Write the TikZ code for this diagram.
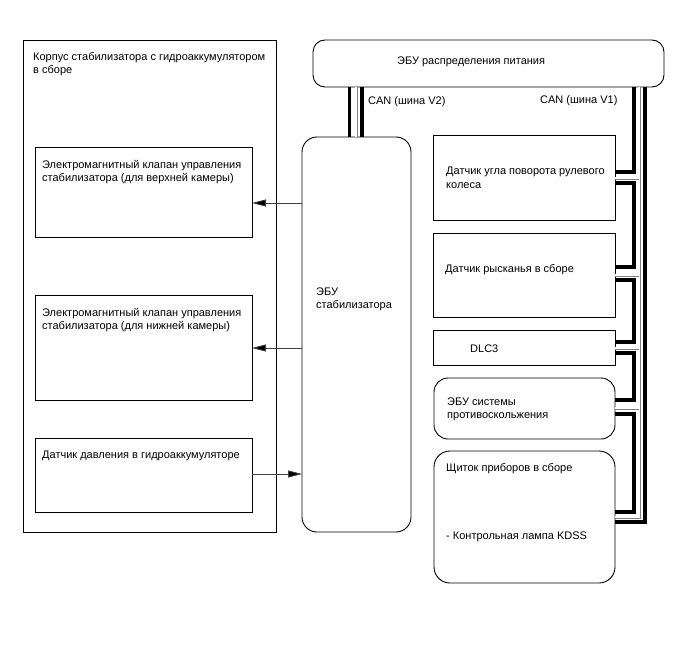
\documentclass[tikz,border=0pt]{standalone}
\usepackage{fontspec}
\setmainfont{Liberation Sans}
\usetikzlibrary{arrows.meta}
\begin{document}
\begin{tikzpicture}[x=1pt,y=-1pt,
  box/.style={draw, line width=0.9pt, anchor=north west, inner sep=0pt, outer sep=0pt},
  lbl/.style={anchor=base west, inner sep=0pt, font=\fontsize{11}{13}\selectfont},
  arr/.style={line width=0.8pt, draw=black!75, -{Triangle[length=14pt,width=7pt,fill=black]}},
  canb/.style={line width=3.5pt, draw=black, line join=miter},
  cang/.style={draw=gray, line width=0.7pt, double=white, double distance=1.6pt}]
\useasboundingbox (0,0) rectangle (688,658);

% left assembly
\node[box, minimum width=253pt, minimum height=492pt] (asm) at (23,40) {};
\node[lbl] (tasm1) at (33,61) {Корпус стабилизатора с гидроаккумулятором};
\node[lbl] (tasm2) at (33,74) {в сборе};

\node[box, minimum width=217pt, minimum height=90pt] (l1) at (35,147) {};
\node[lbl] (tl1a) at (42,168) {Электромагнитный клапан управления};
\node[lbl] (tl1b) at (42,181) {стабилизатора (для верхней камеры)};

\node[box, minimum width=217pt, minimum height=105pt] (l2) at (35,295) {};
\node[lbl] (tl2a) at (42,316) {Электромагнитный клапан управления};
\node[lbl] (tl2b) at (42,329) {стабилизатора (для нижней камеры)};

\node[box, minimum width=217pt, minimum height=74pt] (l3) at (35,438) {};
\node[lbl] (tl3) at (42,458) {Датчик давления в гидроаккумуляторе};

% stabilizer ECU
\node[box, rounded corners=15pt, minimum width=109pt, minimum height=395pt] (stab) at (302,137) {};
\node[lbl] (ts1) at (316,295) {ЭБУ};
\node[lbl] (ts2) at (316,308) {стабилизатора};

% power distribution ECU
\node[box, rounded corners=12pt, minimum width=351pt, minimum height=47pt] (pecu) at (313,40) {};
\node[lbl] (tp) at (397,65) {ЭБУ распределения питания};

\node[lbl] (tv2) at (368,105) {CAN (шина V2)};
\node[lbl] (tv1) at (540,104) {CAN (шина V1)};

% right column
\node[box, minimum width=182pt, minimum height=85pt] (r1) at (433,135) {};
\node[lbl] (tr1a) at (446,175) {Датчик угла поворота рулевого};
\node[lbl] (tr1b) at (446,188) {колеса};

\node[box, minimum width=182pt, minimum height=84pt] (r2) at (433,233) {};
\node[lbl] (tr2) at (445,272) {Датчик рысканья в сборе};

\node[box, minimum width=182pt, minimum height=35pt] (r3) at (433,330) {};
\node[lbl] (tr3) at (470,352) {DLC3};

\node[box, rounded corners=14pt, minimum width=181pt, minimum height=61pt] (r4) at (434,378) {};
\node[lbl] (tr4a) at (447,405) {ЭБУ системы};
\node[lbl] (tr4b) at (447,418) {противоскольжения};

\node[box, rounded corners=16pt, minimum width=181pt, minimum height=132pt] (r5) at (434,451) {};
\node[lbl] (tr5a) at (446,471) {Щиток приборов в сборе};
\node[lbl] (tr5b) at (446,539) {- Контрольная лампа KDSS};

% arrows
\draw[arr] (stab.west |- 0,203) -- (l1.east |- 0,203);
\draw[arr] (stab.west |- 0,348) -- (l2.east |- 0,348);
\draw[arr] (l3.east |- 0,474) -- (stab.west |- 0,474);

% CAN V2
\draw[canb] (pecu.south -| 349.5,0) -- (stab.north -| 349.5,0);
\draw[cang] (pecu.south -| 356,0) -- (stab.north -| 356,0);
\draw[canb] (pecu.south -| 362,0) -- (stab.north -| 362,0);

% CAN V1 inner daisy chain
\draw[canb] (pecu.south -| 634,0) -- (634,172) -- (r1.east |- 0,172);
\draw[canb] (r1.east |- 0,183) -- (634,183) -- (634,267) -- (r2.east |- 0,267);
\draw[canb] (r2.east |- 0,280) -- (634,280) -- (634,342) -- (r3.east |- 0,342);
\draw[canb] (r3.east |- 0,353) -- (634,353) -- (634,400) -- (r4.east |- 0,400);
\draw[canb] (r4.east |- 0,414) -- (634,414) -- (634,512) -- (r5.east |- 0,512);
% gray wire
\draw[cang] (pecu.south -| 639,0) -- (639,517) -- (r5.east |- 0,517);
\draw[cang] (639,178) -- (r1.east |- 0,178);
\draw[cang] (639,275) -- (r2.east |- 0,275);
\draw[cang] (639,348) -- (r3.east |- 0,348);
\draw[cang] (639,408) -- (r4.east |- 0,408);
% outer wire
\draw[canb] (pecu.south -| 645,0) -- (645,522) -- (r5.east |- 0,522);
\end{tikzpicture}
\end{document}
